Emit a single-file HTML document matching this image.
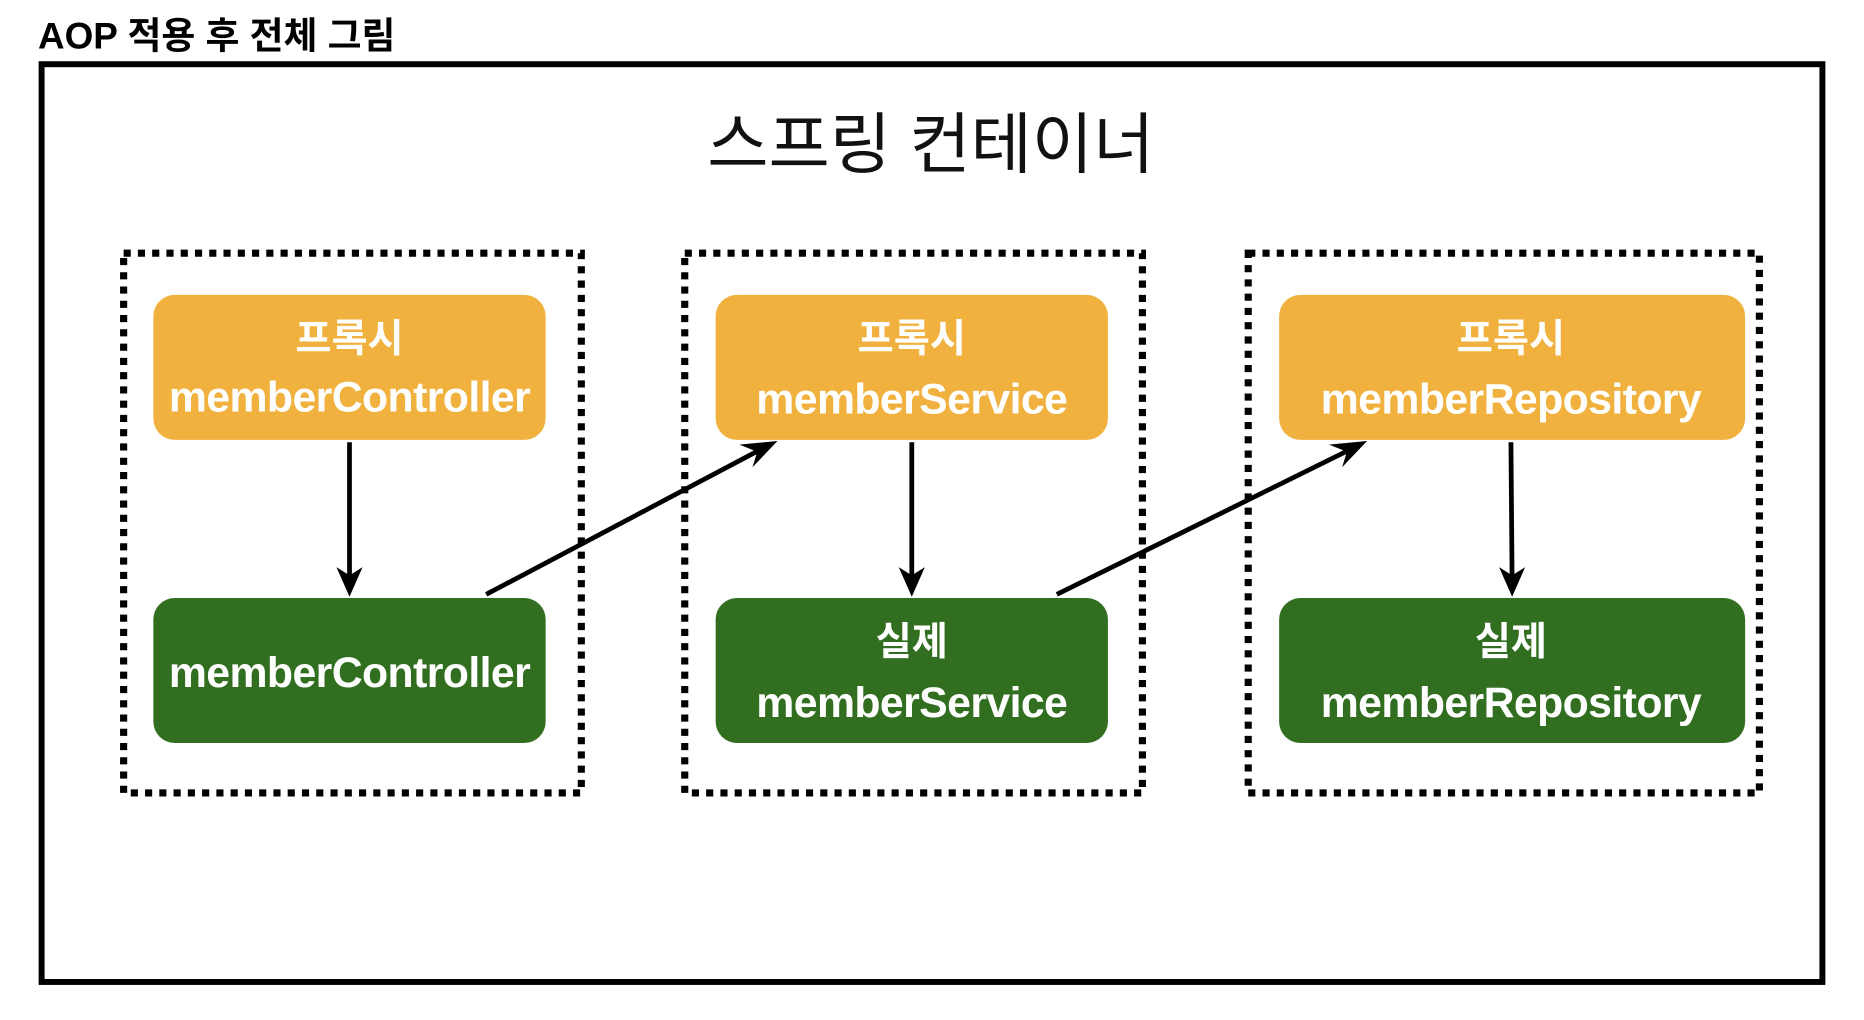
<!DOCTYPE html>
<html><head><meta charset="utf-8"><style>
html,body{margin:0;padding:0;background:#fff;width:1864px;height:1020px;overflow:hidden}
svg{display:block}
text{font-family:"Liberation Sans","Noto Sans CJK KR",sans-serif}
</style></head><body>
<svg width="1864" height="1020" viewBox="0 0 1568 858" preserveAspectRatio="none" xmlns="http://www.w3.org/2000/svg">
<text x="32" y="41" font-size="31" font-weight="bold" fill="#000">AOP 적용 후 전체 그림</text>
<rect x="35" y="54" width="1498" height="772" fill="none" stroke="#000" stroke-width="5"/>
<text x="783" y="141" font-size="56" text-anchor="middle" fill="#111">스프링 컨테이너</text>

<g fill="none" stroke="#000" stroke-width="6" stroke-dasharray="6 6">
<rect x="104" y="213" width="385" height="454"/>
<rect x="576" y="213" width="385" height="454"/>
<rect x="1050" y="213" width="430" height="454"/>
</g>

<g fill="#F1B13E">
<rect x="129" y="248" width="330" height="122" rx="18"/>
<rect x="602" y="248" width="330" height="122" rx="18"/>
<rect x="1076" y="248" width="392" height="122" rx="18"/>
</g>
<g fill="#316E20">
<rect x="129" y="503" width="330" height="122" rx="18"/>
<rect x="602" y="503" width="330" height="122" rx="18"/>
<rect x="1076" y="503" width="392" height="122" rx="18"/>
</g>

<g fill="#fff" text-anchor="middle">
<text x="294" y="296" font-size="33" font-weight="bold">프록시</text>
<text x="294" y="346" font-size="36" font-weight="bold" letter-spacing="-0.5">memberController</text>
<text x="767" y="296" font-size="33" font-weight="bold">프록시</text>
<text x="767" y="348" font-size="36" font-weight="bold" letter-spacing="-0.5">memberService</text>
<text x="1271" y="296" font-size="33" font-weight="bold">프록시</text>
<text x="1271" y="348" font-size="36" font-weight="bold" letter-spacing="-0.5">memberRepository</text>
<text x="294" y="578" font-size="36" font-weight="bold" letter-spacing="-0.5">memberController</text>
<text x="767" y="551" font-size="33" font-weight="bold">실제</text>
<text x="767" y="603" font-size="36" font-weight="bold" letter-spacing="-0.5">memberService</text>
<text x="1271" y="551" font-size="33" font-weight="bold">실제</text>
<text x="1271" y="603" font-size="36" font-weight="bold" letter-spacing="-0.5">memberRepository</text>
</g>

<g stroke="#000" stroke-width="4" fill="none">
<line x1="294" y1="372" x2="294" y2="490"/>
<line x1="767" y1="372" x2="767" y2="490"/>
<line x1="1271" y1="372" x2="1272" y2="490"/>
<line x1="409" y1="500" x2="640" y2="378"/>
<line x1="889" y1="500" x2="1136" y2="378"/>
</g>
<g fill="#000">
<polygon points="294,502 283,477 294,484 305,477"/>
<polygon points="767,502 756,477 767,484 778,477"/>
<polygon points="1272,502 1261,477 1272,484 1283,477"/>
<polygon points="654,371 633,393 637,380 622,374"/>
<polygon points="1150,371 1129,393 1133,380 1118,374"/>
</g>
</svg>
</body></html>
